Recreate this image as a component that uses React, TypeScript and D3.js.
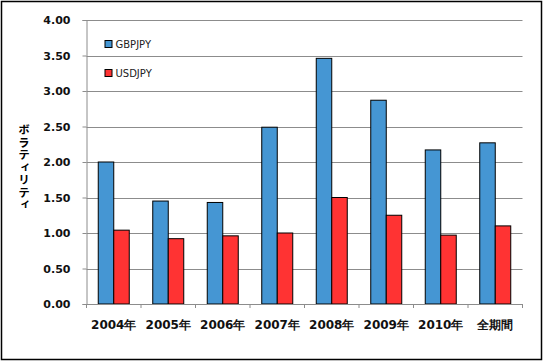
import { useEffect, useRef } from "react";
import * as d3 from "d3";

const W = 545;
const H = 362;
const MARGIN = { top: 20, right: 22.5, bottom: 58, left: 86.5 };

const categories = ["2004年", "2005年", "2006年", "2007年", "2008年", "2009年", "2010年", "全期間"];
const seriesNames = ["GBPJPY", "USDJPY"];
const gbpjpy = [2.0, 1.45, 1.43, 2.49, 3.46, 2.87, 2.17, 2.27];
const usdjpy = [1.04, 0.92, 0.96, 1.0, 1.5, 1.25, 0.97, 1.1];
const yTicks = [0, 0.5, 1, 1.5, 2, 2.5, 3, 3.5, 4];
const yLabel = "ボラティリティ";
const colors = ["#4596d3", "#ff3333"];

const App = () => {
  const ref = useRef<SVGSVGElement>(null);

  useEffect(() => {
    const svg = d3.select(ref.current);
    svg.selectAll("*").remove();

    const innerW = W - MARGIN.left - MARGIN.right;
    const innerH = H - MARGIN.top - MARGIN.bottom;

    // outer frame
    svg.append("rect")
      .attr("x", 1.5).attr("y", 1.5)
      .attr("width", 540).attr("height", 358)
      .attr("fill", "white").attr("stroke", "black").attr("stroke-width", 1.5);

    const g = svg.append("g").attr("transform", `translate(${MARGIN.left},${MARGIN.top})`);

    const x = d3.scaleBand().domain(categories).range([0, innerW]);
    const y = d3.scaleLinear().domain([0, 4]).range([innerH, 0]);
    const barW = 15.5;

    // gridlines
    g.selectAll(".grid")
      .data(yTicks)
      .enter().append("line")
      .attr("x1", 0).attr("x2", innerW)
      .attr("y1", d => Math.round(y(d)) + 0.5).attr("y2", d => Math.round(y(d)) + 0.5)
      .attr("stroke", "#8c8c8c").attr("stroke-width", 1);

    // bars
    const series = [gbpjpy, usdjpy];
    series.forEach((vals, si) => {
      g.selectAll(`.bar${si}`)
        .data(vals)
        .enter().append("rect")
        .attr("x", (_, i) => (x(categories[i]) as number) + x.bandwidth() / 2 - barW + si * barW)
        .attr("y", d => y(d))
        .attr("width", barW)
        .attr("height", d => innerH - y(d))
        .attr("fill", colors[si])
        .attr("stroke", "black").attr("stroke-width", 1);
    });

    // y axis
    const yAxis = g.append("g").call(
      d3.axisLeft(y).tickValues(yTicks).tickSize(4).tickPadding(12).tickFormat(d => (d as number).toFixed(2))
    );
    yAxis.select(".domain").attr("stroke", "#8c8c8c");
    yAxis.selectAll(".tick line").attr("stroke", "#8c8c8c");
    yAxis.selectAll("text")
      .attr("font-family", "DejaVu Sans")
      .attr("font-weight", "bold")
      .attr("font-size", 11)
      .attr("fill", "#111");

    // x axis
    const xAxis = g.append("g")
      .attr("transform", `translate(0,${innerH})`)
      .call(d3.axisBottom(x).tickSize(0).tickPadding(16));
    xAxis.select(".domain").attr("stroke", "#8c8c8c");
    xAxis.selectAll("text")
      .attr("font-family", "DejaVu Sans")
      .attr("font-weight", "bold")
      .attr("font-size", 12)
      .attr("fill", "#111");
    xAxis.selectAll(".sep")
      .data(d3.range(categories.length + 1))
      .enter().append("line")
      .attr("x1", i => i * x.bandwidth()).attr("x2", i => i * x.bandwidth())
      .attr("y1", 0).attr("y2", 4)
      .attr("stroke", "#8c8c8c");

    // legend
    const legend = g.append("g").attr("transform", "translate(18,20)");
    seriesNames.forEach((name, i) => {
      const row = legend.append("g").attr("transform", `translate(0,${i * 29})`);
      row.append("rect")
        .attr("x", 0.5).attr("y", 0.5).attr("width", 7).attr("height", 7)
        .attr("fill", colors[i]).attr("stroke", "black").attr("stroke-width", 1);
      row.append("text")
        .attr("x", 11).attr("y", 4)
        .attr("dy", "0.35em")
        .attr("font-family", "DejaVu Sans")
        .attr("font-size", 10)
        .attr("fill", "#222")
        .text(name);
    });

    // y label, vertical upright text
    svg.append("text")
      .attr("font-family", "Noto Sans CJK JP")
      .attr("font-weight", "bold")
      .attr("font-size", 11.5)
      .attr("fill", "black")
      .attr("x", 24)
      .attr("y", 124)
      .style("writing-mode", "vertical-rl")
      .style("text-orientation", "upright")
      .style("letter-spacing", "1px")
      .text(yLabel);
  }, []);

  return (
    <div style={{ position: "absolute", left: 0, top: 0 }}>
      <svg ref={ref} width={W} height={H} style={{ display: "block" }} />
    </div>
  );
};

export default App;
